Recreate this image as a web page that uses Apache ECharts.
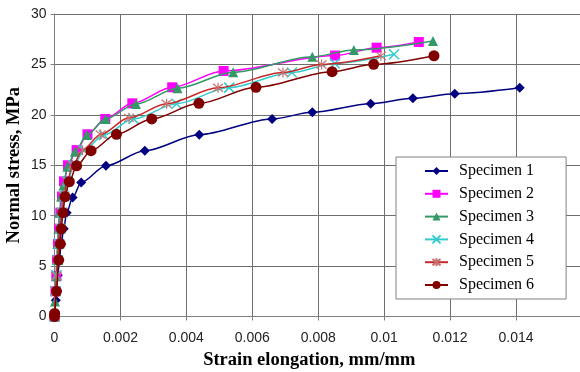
<!DOCTYPE html>
<html>
<head>
<meta charset="utf-8">
<script src="https://cdn.jsdelivr.net/npm/echarts@6/dist/echarts.min.js"></script>
<style>html,body{margin:0;padding:0;background:#fff}#c{width:580px;height:372px}</style>
</head>
<body>
<div id="c"></div>
<script>
// ---- data ----
const seriesNames = ['Specimen 1','Specimen 2','Specimen 3','Specimen 4','Specimen 5','Specimen 6'];
const xTicks = [0,0.002,0.004,0.006,0.008,0.01,0.012,0.014];
const yTicks = [0,5,10,15,20,25,30];

const strain1 = [0,0.00004,0.0001,0.00015,0.0002,0.00028,0.00037,0.00055,0.00081,0.00156,0.00274,0.00439,0.0066,0.00782,0.00959,0.01087,0.01214,0.01411];
const stress1 = [0,1.6,4.1,5.6,7.2,8.7,10.3,11.8,13.3,14.95,16.44,18.03,19.59,20.25,21.1,21.64,22.1,22.69];

const strain2 = [0,0.00003,0.000055,0.000076,0.000106,0.000136,0.000176,0.000227,0.000288,0.00041,0.00067,0.001,0.00154,0.00236,0.00357,0.00513,0.00851,0.00977,0.01105];
const stress2 = [0,2.5,4.0,5.6,7.2,8.7,10.3,11.9,13.4,15.0,16.5,18.07,19.59,21.14,22.73,24.35,25.88,26.66,27.22];

const strain3 = [0,0.000015,0.000045,0.00007,0.00009,0.000115,0.00015,0.0002,0.00027,0.00039,0.00062,0.00098,0.00155,0.00247,0.00373,0.00542,0.00782,0.00908,0.01148];
const stress3 = [0,1.5,4.0,5.6,7.2,8.7,10.3,11.9,13.0,14.86,16.34,18.0,19.59,21.07,22.63,24.22,25.76,26.43,27.32];

const strain4 = [0,0.00003,0.00006,0.0001,0.00014,0.00018,0.00023,0.0003,0.0004,0.00058,0.0009,0.0015,0.0024,0.0037,0.0053,0.0072,0.0085,0.0103];
const stress4 = [0,2.5,4.1,5.6,7.2,8.7,10.3,11.9,13.4,15.0,16.5,18.0,19.6,21.1,22.7,24.2,25.1,26.0];

const strain5 = [0,0.00003,0.00006,0.00009,0.00013,0.00017,0.00022,0.00029,0.00038,0.00055,0.00085,0.0014,0.00226,0.0034,0.00496,0.00693,0.0081,0.0099];
const stress5 = [0,2.5,4.0,5.6,7.2,8.7,10.3,11.9,13.4,15.0,16.5,18.05,19.7,21.1,22.68,24.2,25.0,25.85];

const strain6 = [0,0.000005,0.00006,0.000127,0.000176,0.000206,0.000258,0.00032,0.00045,0.00067,0.00111,0.00188,0.00295,0.00438,0.00611,0.00842,0.00968,0.01151];
const stress6 = [0,0.3,2.5,5.6,7.2,8.7,10.3,11.88,13.37,14.95,16.44,18.07,19.59,21.14,22.73,24.28,25.01,25.86];

// ---- chart ----
const zip = (a, b) => a.map((v, i) => [v, b[i]]);
const strains = [strain1,strain2,strain3,strain4,strain5,strain6];
const stresses = [stress1,stress2,stress3,stress4,stress5,stress6];
const lineColors = ['#000080','#FF00FF','#339966','#33CCCC','#C8282A','#800000'];
const symbols = ['diamond','rect','triangle',
  'path://M0,0L10,10M10,0L0,10',
  'path://M1,1L9,9M9,1L1,9M5,0L5,10',
  'circle'];
const symbolSizes = [10,10,10,10,10,11];
const itemStyles = [
  {color:'#000080'},
  {color:'#FF00FF'},
  {color:'#339966'},
  {color:'#33CCCC', borderColor:'#33CCCC', borderWidth:1.5},
  {color:'#C87070', borderColor:'#C87070', borderWidth:1.2},
  {color:'#800000'}
];

const series = seriesNames.map((n, i) => ({
  name: n,
  type: 'line',
  data: zip(strains[i], stresses[i]),
  smooth: 0.3,
  smoothMonotone: 'x',
  symbol: symbols[i],
  symbolSize: symbolSizes[i],
  showAllSymbol: true,
  lineStyle: {color: lineColors[i], width: 1.5},
  itemStyle: itemStyles[i],
  z: 2 + i,
  animation: false
}));

const chart = echarts.init(document.getElementById('c'), null, {renderer:'canvas'});
chart.setOption({
  animation: false,
  backgroundColor: '#fff',
  grid: {left: 54.5, right: -2, top: 14, bottom: 55.5, containLabel: false, outerBoundsMode: 'none'},
  xAxis: {
    type: 'value', min: 0, max: 0.016, interval: 0.002,
    name: 'Strain elongation, mm/mm', nameLocation: 'middle', nameGap: 32,
    nameTextStyle: {fontFamily: 'Liberation Serif', fontWeight: 'bold', fontSize: 18.5, color: '#000', padding:[0,18,0,0]},
    axisLine: {show: true, onZero: false, lineStyle: {color: '#808080', width: 1}},
    axisTick: {show: true, length: 4, inside: false, lineStyle: {color: '#808080'}},
    splitLine: {show: true, lineStyle: {color: '#6e6e6e', width: 1}},
    axisLabel: {
      margin: 15, fontFamily: 'Liberation Sans', fontSize: 14, color: '#222',
      formatter: v => (xTicks.some(t => Math.abs(t - v) < 1e-9) ? String(+v.toFixed(3)) : '')
    }
  },
  yAxis: {
    type: 'value', min: 0, max: 30, interval: 5,
    name: 'Normal stress, MPa', nameLocation: 'middle', nameGap: 31, nameRotate: 90,
    nameMoveOverlap: false,
    nameTextStyle: {fontFamily: 'Liberation Serif', fontWeight: 'bold', fontSize: 18.5, color: '#000'},
    axisLine: {show: true, lineStyle: {color: '#808080', width: 1}},
    axisTick: {show: true, length: 4, lineStyle: {color: '#808080'}},
    splitLine: {show: true, lineStyle: {color: '#6e6e6e', width: 1}},
    axisLabel: {
      margin: 8, fontFamily: 'Liberation Sans', fontSize: 14, color: '#222',
      formatter: v => (yTicks.includes(v) ? String(v) : '')
    }
  },
  legend: {
    orient: 'vertical',
    left: 396, top: 157,
    data: seriesNames,
    itemWidth: 23, itemHeight: 10, itemGap: 6.8,
    padding: [6, 32, 6, 28],
    backgroundColor: '#fff',
    borderColor: '#808080', borderWidth: 1,
    textStyle: {fontFamily: 'Liberation Serif', fontSize: 16, color: '#000', padding:[0,0,0,6]}
  },
  series: series
});
</script>
</body>
</html>
